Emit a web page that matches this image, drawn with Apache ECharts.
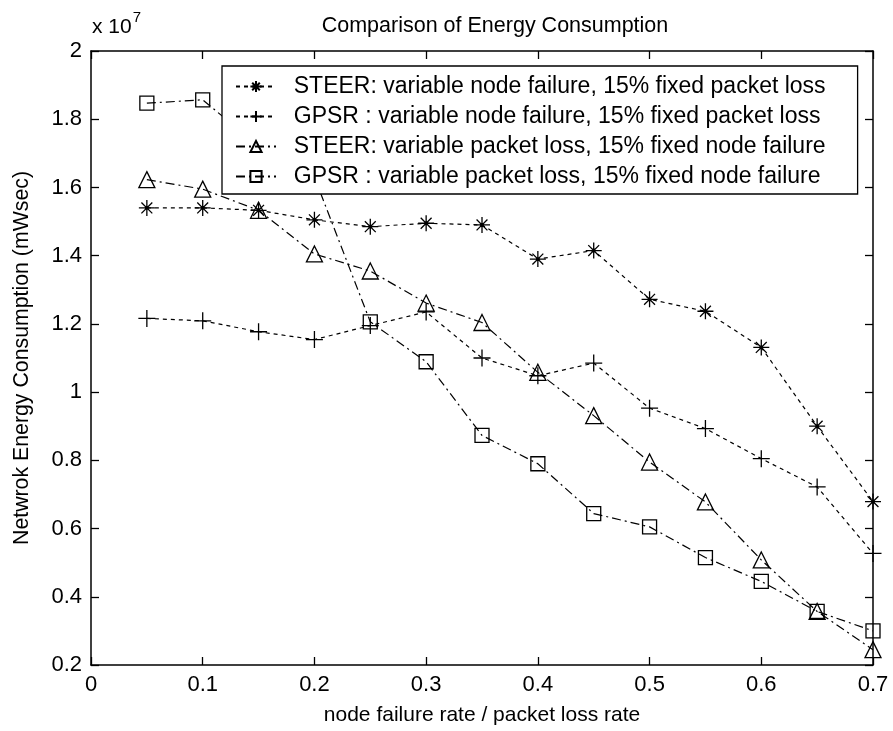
<!DOCTYPE html>
<html>
<head>
<meta charset="utf-8">
<title>Comparison of Energy Consumption</title>
<script src="https://cdn.jsdelivr.net/npm/echarts@6/dist/echarts.min.js"></script>
<style>
  html, body { margin: 0; padding: 0; background: #fff; }
  #chart { width: 893px; height: 731px; }
</style>
</head>
<body>
<div id="chart"></div>
<script>
// Failure / loss rates on the x axis
const rates = [0.05, 0.1, 0.15, 0.2, 0.25, 0.3, 0.35, 0.4, 0.45, 0.5, 0.55, 0.6, 0.65, 0.7];

// Network energy consumption, in units of 10^7 mWsec
const steerNodeFailure = [1.54, 1.54, 1.533, 1.505, 1.485, 1.495, 1.49, 1.39, 1.415, 1.272, 1.237, 1.131, 0.90, 0.679];
const gpsrNodeFailure  = [1.216, 1.209, 1.177, 1.154, 1.195, 1.235, 1.10, 1.048, 1.085, 0.953, 0.893, 0.805, 0.722, 0.527];
const steerPacketLoss  = [1.623, 1.595, 1.533, 1.405, 1.355, 1.261, 1.204, 1.058, 0.931, 0.795, 0.678, 0.508, 0.357, 0.245];
const gpsrPacketLoss   = [1.847, 1.857, 1.72, 1.63, 1.206, 1.089, 0.873, 0.79, 0.644, 0.605, 0.515, 0.445, 0.357, 0.30];

const seriesNames = [
  'STEER: variable node failure, 15% fixed packet loss',
  'GPSR : variable node failure, 15% fixed packet loss',
  'STEER: variable packet loss, 15% fixed node failure',
  'GPSR : variable packet loss, 15% fixed node failure'
];

const xTicks = { min: 0, max: 0.7, interval: 0.1 };
const yTicks = { min: 0.2, max: 2, interval: 0.2 };

const FONT = '"Liberation Sans", Arial, sans-serif';
const INK = '#000';

// MATLAB-style marker glyphs
const asteriskPath = 'path://M0 5L10 5M5 0L5 10M1.6 1.6L8.4 8.4M8.4 1.6L1.6 8.4M4.2 4.2L5.8 4.2L5.8 5.8L4.2 5.8Z';
const plusPath = 'path://M0 5L10 5M5 0L5 10';

const dotted = [4, 4];
const dashDot = [9, 4, 2, 4];

function pairs(values) {
  return rates.map((r, i) => [r, values[i]]);
}

function makeSeries(name, values, symbol, size, dash) {
  return {
    name: name,
    type: 'line',
    data: pairs(values),
    symbol: symbol,
    symbolSize: size,
    showAllSymbol: true,
    clip: false,
    lineStyle: { color: INK, width: 1.2, type: dash },
    itemStyle: { color: 'none', borderColor: INK, borderWidth: 1.3 },
    emphasis: { disabled: true },
    z: 2
  };
}

function axisCommon(showLabels) {
  return {
    axisLine: { show: true, onZero: false, lineStyle: { color: INK, width: 1.5 } },
    axisTick: { show: true, inside: true, length: 8, lineStyle: { color: INK, width: 1.3 } },
    splitLine: { show: false },
    axisLabel: { show: showLabels, color: INK, fontFamily: FONT, fontSize: 22 }
  };
}

const chart = echarts.init(document.getElementById('chart'), null, { renderer: 'canvas' });

chart.setOption({
  backgroundColor: '#fff',
  animation: false,
  textStyle: { fontFamily: FONT, color: INK },
  title: {
    text: 'Comparison of Energy Consumption',
    left: 490,
    textAlign: 'center',
    top: 10,
    textStyle: { fontFamily: FONT, fontSize: 21.5, fontWeight: 'normal', color: INK }
  },
  grid: { left: 91, right: 20, top: 51, bottom: 64, containLabel: false },
  legend: {
    orient: 'vertical',
    left: 222,
    top: 66,
    backgroundColor: '#fff',
    borderColor: INK,
    borderWidth: 1.3,
    borderRadius: 0,
    padding: [9, 32, 6, 13],
    itemWidth: 40,
    itemHeight: 14,
    itemGap: 7,
    selectedMode: false,
    formatter: name => '  ' + name,
    textStyle: { fontFamily: FONT, fontSize: 23, lineHeight: 21, color: INK },
    data: seriesNames,
    z: 10
  },
  xAxis: [
    Object.assign(axisCommon(true), {
      type: 'value', position: 'bottom',
      min: xTicks.min, max: xTicks.max, interval: xTicks.interval,
      name: 'node failure rate / packet loss rate',
      nameLocation: 'middle', nameGap: 40,
      nameTextStyle: { fontFamily: FONT, fontSize: 21, color: INK },
      axisLabel: { show: true, color: INK, fontFamily: FONT, fontSize: 22, margin: 9 }
    }),
    Object.assign(axisCommon(false), {
      type: 'value', position: 'top',
      min: xTicks.min, max: xTicks.max, interval: xTicks.interval
    })
  ],
  yAxis: [
    Object.assign(axisCommon(true), {
      type: 'value', position: 'left',
      min: yTicks.min, max: yTicks.max, interval: yTicks.interval,
      name: 'Netwrok Energy Consumption (mWsec)',
      nameLocation: 'middle', nameGap: 58, nameRotate: 90,
      nameTextStyle: { fontFamily: FONT, fontSize: 21.3, color: INK },
      axisLabel: { show: true, color: INK, fontFamily: FONT, fontSize: 22, margin: 9 }
    }),
    Object.assign(axisCommon(false), {
      type: 'value', position: 'right',
      min: yTicks.min, max: yTicks.max, interval: yTicks.interval
    })
  ],
  graphic: [
    {
      type: 'text',
      left: 92,
      top: 10,
      style: {
        text: '{b|x 10}{e|7}',
        rich: {
          b: { fontFamily: FONT, fontSize: 21, fill: INK, verticalAlign: 'bottom', lineHeight: 28 },
          e: { fontFamily: FONT, fontSize: 15, fill: INK, verticalAlign: 'top', lineHeight: 28, padding: [0, 0, 12, 1] }
        }
      },
      z: 20
    }
  ],
  series: [
    makeSeries(seriesNames[0], steerNodeFailure, asteriskPath, 16, dotted),
    makeSeries(seriesNames[1], gpsrNodeFailure, plusPath, 17, dotted),
    makeSeries(seriesNames[2], steerPacketLoss, 'triangle', 16, dashDot),
    makeSeries(seriesNames[3], gpsrPacketLoss, 'rect', 14, dashDot)
  ]
});
</script>
</body>
</html>
